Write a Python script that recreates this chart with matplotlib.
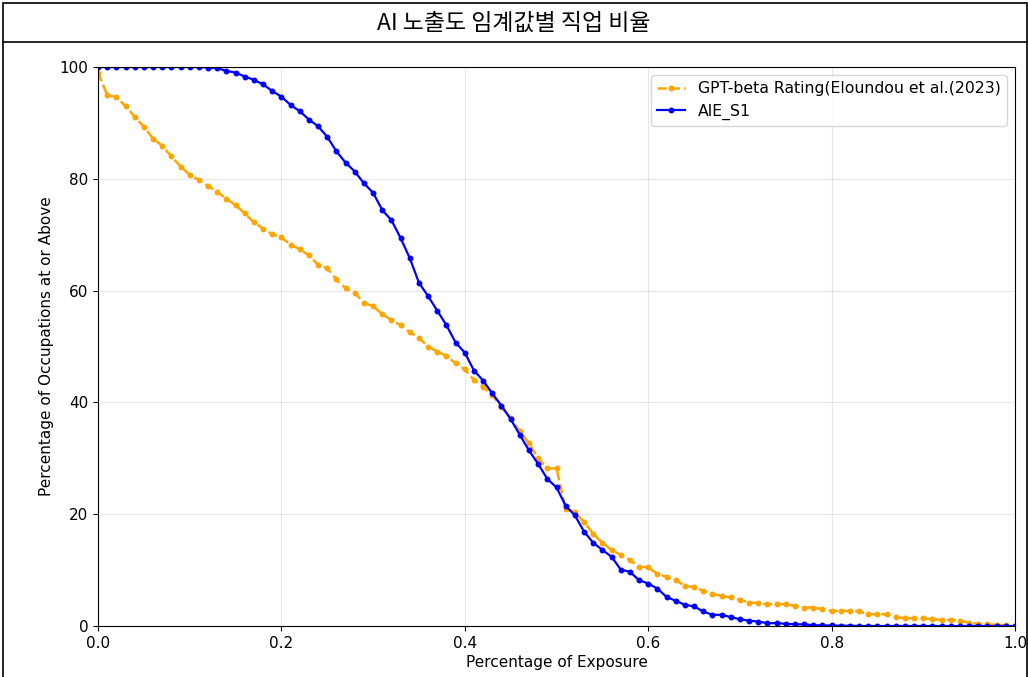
import matplotlib.pyplot as plt
import numpy as np
from matplotlib.patches import Rectangle

# exposure thresholds 0.00 .. 1.00
thresholds = np.round(np.arange(0, 101) / 100, 2)

gpt_beta = [
    99.0, 95.0, 94.6, 93.0, 91.1, 89.3, 87.2, 85.9, 84.0, 82.2,
    80.7, 79.8, 78.7, 77.7, 76.4, 75.3, 73.8, 72.2, 71.1, 70.1,
    69.5, 68.2, 67.4, 66.3, 64.6, 64.0, 62.0, 60.4, 59.6, 57.8,
    57.2, 55.8, 54.7, 53.8, 52.6, 51.5, 50.0, 49.1, 48.3, 47.0,
    45.9, 44.0, 42.8, 41.3, 39.2, 37.2, 34.8, 32.7, 30.0, 28.2,
    28.2, 20.9, 20.4, 18.6, 16.5, 14.9, 13.6, 12.7, 11.8, 10.6,
    10.5, 9.3, 8.8, 8.2, 7.2, 6.9, 6.3, 5.7, 5.4, 5.1,
    4.7, 4.2, 4.1, 3.9, 3.9, 3.9, 3.6, 3.3, 3.3, 3.0,
    2.7, 2.7, 2.7, 2.6, 2.1, 2.1, 2.1, 1.6, 1.4, 1.4,
    1.4, 1.2, 1.1, 1.1, 0.95, 0.6, 0.35, 0.3, 0.2, 0.1,
    0.0,
]

aie_s1 = [
    100, 100, 100, 100, 100, 100, 100, 100, 100, 100,
    100, 100, 99.9, 99.8, 99.3, 99.0, 98.3, 97.7, 96.9, 95.7,
    94.7, 93.2, 92.1, 90.6, 89.4, 87.5, 84.9, 82.9, 81.3, 79.2,
    77.5, 74.4, 72.6, 69.4, 65.8, 61.4, 59.0, 56.4, 53.8, 50.7,
    48.9, 45.7, 43.9, 41.6, 39.4, 37.0, 34.2, 31.4, 29.0, 26.3,
    24.8, 21.5, 19.8, 16.9, 14.9, 13.6, 12.4, 10.1, 9.7, 8.2,
    7.6, 6.7, 5.2, 4.5, 3.8, 3.5, 2.6, 2.0, 2.0, 1.6,
    1.2, 0.95, 0.8, 0.5, 0.5, 0.4, 0.3, 0.3, 0.15, 0.1,
    0.1, 0.05, 0.05, 0.0, 0.0, 0.0, 0.0, 0.0, 0.0, 0.0,
    0.0, 0.0, 0.0, 0.0, 0.0, 0.0, 0.0, 0.0, 0.0, 0.0,
    0.0,
]

title = 'AI 노출도 임계값별 직업 비율'

fig = plt.figure(figsize=(10.28, 6.77), dpi=100)

# outer frame + title bar
fig.patches.append(Rectangle((3 / 1028, -0.05), 1024 / 1028, 1.05 - 3 / 677,
                             transform=fig.transFigure, fill=False,
                             edgecolor='black', linewidth=1.2))
fig.add_artist(plt.Line2D([3 / 1028, 1027 / 1028], [1 - 42 / 677, 1 - 42 / 677],
                          transform=fig.transFigure, color='black', linewidth=1.2))
fig.text(0.5, 1 - 23 / 677, title, ha='center', va='center', fontsize=16.5,
         family=['Noto Sans CJK KR', 'DejaVu Sans'], weight='light')

ax = fig.add_axes([98 / 1028, 51 / 677, 917 / 1028, 559 / 677])

ax.plot(thresholds, gpt_beta, color='orange', linestyle='--', marker='.',
        markersize=6.5, linewidth=1.8, label='GPT-beta Rating(Eloundou et al.(2023)')
ax.plot(thresholds, aie_s1, color='blue', linestyle='-', marker='.',
        markersize=6.5, linewidth=1.6, label='AIE_S1')

ax.set_xlim(0, 1)
ax.set_ylim(0, 100)
ax.set_xticks([0.0, 0.2, 0.4, 0.6, 0.8, 1.0])
ax.set_yticks([0, 20, 40, 60, 80, 100])
ax.grid(True, alpha=0.3)
ax.set_xlabel('Percentage of Exposure', fontsize=11, labelpad=3)
ax.set_ylabel('Percentage of Occupations at or Above', fontsize=11)
ax.tick_params(labelsize=11)
ax.legend(loc='upper right', fontsize=11.3, handlelength=1.8)

fig.savefig('out.png', dpi=100)
